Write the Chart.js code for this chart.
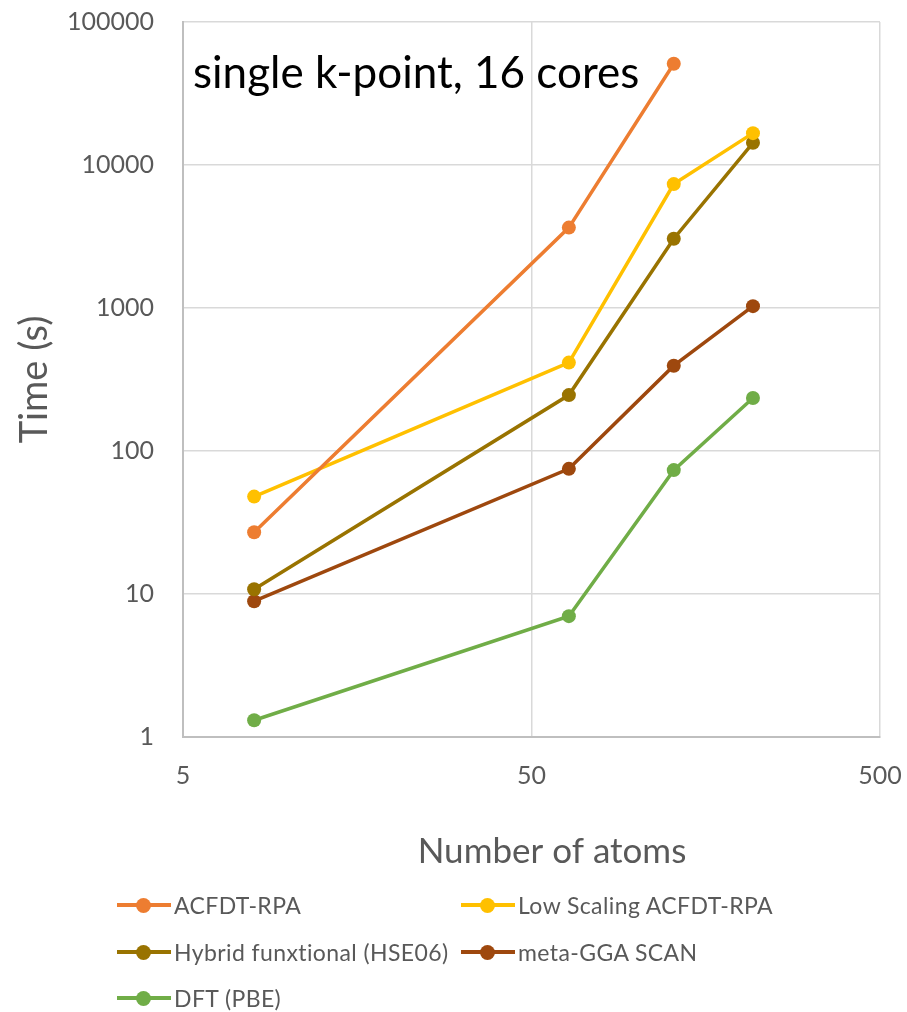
<!DOCTYPE html>
<html>
<head>
<meta charset="utf-8">
<script src="https://cdn.jsdelivr.net/npm/chart.js@4"></script>
<style>
  html, body { margin: 0; padding: 0; background: #fff; }
  #wrap { position: relative; width: 907px; height: 1012px; }
  #legend { position: absolute; left: 0; top: 0; width: 907px; height: 1012px; pointer-events: none;
            font-family: Lato, sans-serif; font-size: 23px; letter-spacing: 0.4px; color: #595959; }
  .item { position: absolute; display: flex; align-items: center; height: 30px; white-space: nowrap; }
  .swatch { position: relative; width: 54px; height: 30px; margin-right: 3px; }
  .swatch .ln { position: absolute; left: 0; right: 0; top: 13px; height: 4px; }
  .swatch .dot { position: absolute; left: 19px; top: 8px; width: 15px; height: 15px; border-radius: 50%; }
</style>
</head>
<body>
<div id="wrap">
  <canvas id="chart" width="907" height="1012"></canvas>
  <div id="legend"></div>
</div>
<script>
document.addEventListener("DOMContentLoaded", () => {

    // number of atoms
    const atoms = [8, 64, 128, 216];

    // wall time in seconds
    const acfdtRpa = [27, 3650, 51000];
    const lowScaling = [48, 415, 7350, 16700];
    const hybridHse = [10.8, 246, 3050, 14300];
    const metaGga = [8.9, 75, 395, 1030];
    const dftPbe = [1.31, 7.0, 73.5, 235];

    const seriesNames = ["ACFDT-RPA", "Low Scaling ACFDT-RPA", "Hybrid funxtional (HSE06)", "meta-GGA SCAN", "DFT (PBE)"];
    const seriesValues = [acfdtRpa, lowScaling, hybridHse, metaGga, dftPbe];
    const colors = ["#ED7D31", "#FFC000", "#997300", "#9E480E", "#70AD47"];

    const xTicks = [5, 50, 500];
    const yTicks = [1, 10, 100, 1000, 10000, 100000];

    const font = "Lato, sans-serif";
    const grey = "#595959";

    const datasets = seriesNames.map((name, i) => ({
        label: name,
        data: seriesValues[i].map((v, j) => ({ x: atoms[j], y: v })),
        borderColor: colors[i],
        backgroundColor: colors[i],
        borderWidth: 3.5,
        pointRadius: 7,
        pointHoverRadius: 7,
        pointBorderWidth: 0,
        tension: 0
    }));

    // text inside the plot and the x title (Excel centres it on the whole chart)
    const extraText = {
        id: "extraText",
        afterDraw(chart) {
            const ctx = chart.ctx;
            ctx.save();
            ctx.fillStyle = "#000";
            ctx.font = "44px " + font;
            ctx.textBaseline = "alphabetic";
            ctx.textAlign = "left";
            ctx.fillText("single k-point, 16 cores", 193, 88);
            ctx.fillStyle = grey;
            ctx.font = "35px " + font;
            ctx.textAlign = "center";
            ctx.textBaseline = "middle";
            ctx.fillText("Number of atoms", 552, 852);
            ctx.restore();
        }
    };

    new Chart(document.getElementById("chart"), {
        type: "line",
        data: { datasets },
        options: {
            responsive: false,
            animation: false,
            layout: { padding: { left: 0, top: 22, right: 27, bottom: 135 } },
            plugins: { legend: { display: false }, tooltip: { enabled: false } },
            scales: {
                x: {
                    type: "logarithmic",
                    min: 5,
                    max: 500,
                    afterBuildTicks(scale) { scale.ticks = xTicks.map(v => ({ value: v })); },
                    afterFit(scale) {
                        scale.height = 140;
                        scale.paddingLeft = 0;
                        scale.paddingRight = 0;
                    },
                    ticks: {
                        color: grey, padding: 24, maxRotation: 0, autoSkip: false,
                        font: { family: font, size: 25 },
                        callback: v => String(v)
                    },
                    grid: { color: "#d9d9d9", lineWidth: 1.5, drawTicks: false },
                    border: { color: "#bfbfbf", width: 2 }
                },
                y: {
                    type: "logarithmic",
                    min: 1,
                    max: 100000,
                    afterBuildTicks(scale) { scale.ticks = yTicks.map(v => ({ value: v })); },
                    afterFit(scale) {
                        scale.width = 183;
                        scale.paddingTop = 0;
                        scale.paddingBottom = 0;
                    },
                    ticks: {
                        color: grey, padding: 29, autoSkip: false,
                        font: { family: font, size: 25 },
                        callback: v => String(v)
                    },
                    title: {
                        display: true, text: "Time (s)", color: grey,
                        font: { family: font, size: 38 }, padding: { top: 12, bottom: 0 }
                    },
                    grid: { color: "#d9d9d9", lineWidth: 1.5, drawTicks: false },
                    border: { color: "#bfbfbf", width: 2 }
                }
            }
        },
        plugins: [extraText]
    });

    // legend in two columns, as in the original
    const legendPos = [[117, 890], [461, 890], [117, 937], [461, 937], [117, 983]];
    const legend = document.getElementById("legend");
    seriesNames.forEach((name, i) => {
        const item = document.createElement("div");
        item.className = "item";
        item.style.left = legendPos[i][0] + "px";
        item.style.top = legendPos[i][1] + "px";
        item.innerHTML = '<div class="swatch"><div class="ln" style="background:' + colors[i] +
            '"></div><div class="dot" style="background:' + colors[i] + '"></div></div><span>' + name + '</span>';
        legend.appendChild(item);
    });

});
</script>
</body>
</html>
